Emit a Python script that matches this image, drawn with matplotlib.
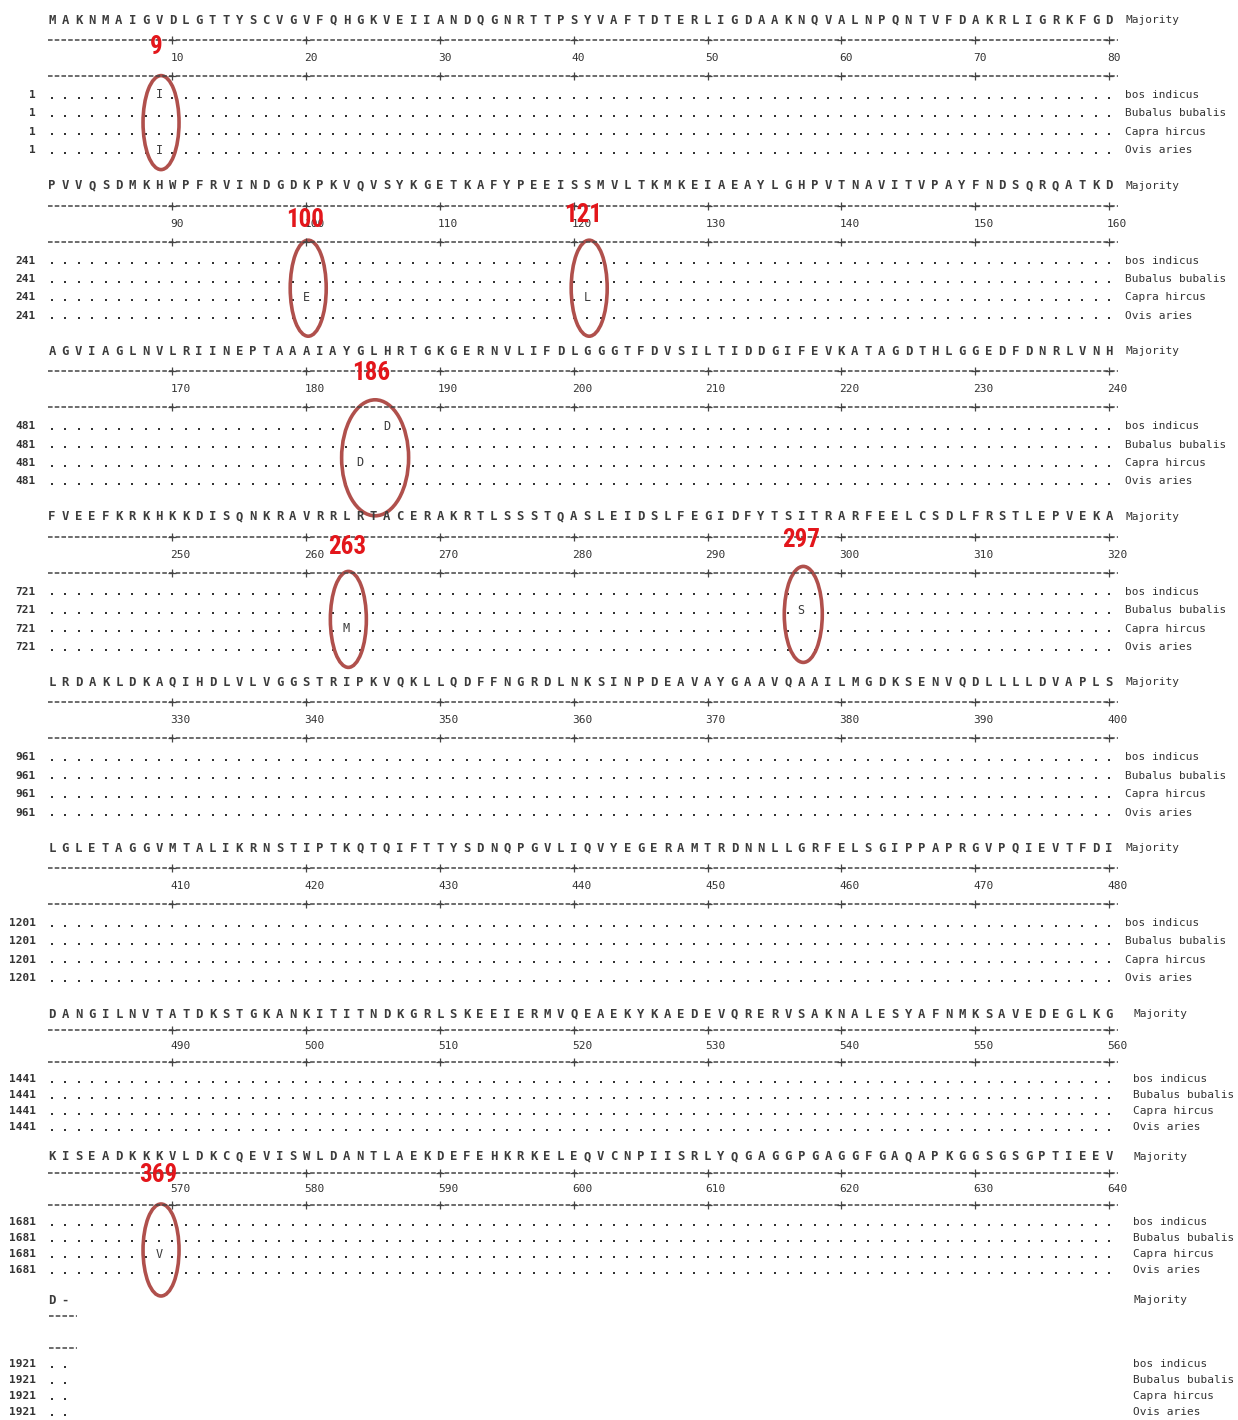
import matplotlib
matplotlib.use("Agg")
import matplotlib.pyplot as plt
from matplotlib.patches import Ellipse
from matplotlib import font_manager as fm

# ---------------- data ----------------
majority_blocks = [
    "MAKNMAIGVDLGTTYSCVGVFQHGKVEIIANDQGNRTTPSYVAFTDTERLIGDAAKNQVALNPQNTVFDAKRLIGRKFGD",
    "PVVQSDMKHWPFRVINDGDKPKVQVSYKGETKAFYPEEISSMVLTKMKEIAEAYLGHPVTNAVITVPAYFNDSQRQATKD",
    "AGVIAGLNVLRIINEPTAAAIAYGLHRTGKGERNVLIFDLGGGTFDVSILTIDDGIFEVKATAGDTHLGGEDFDNRLVNH",
    "FVEEFKRKHKKDISQNKRAVRRLRTACERAKRTLSSSTQASLEIDSLFEGIDFYTSITRARFEELCSDLFRSTLEPVEKA",
    "LRDAKLDKAQIHDLVLVGGSTRIPKVQKLLQDFFNGRDLNKSINPDEAVAYGAAVQAAILMGDKSENVQDLLLLDVAPLS",
    "LGLETAGGVMTALIKRNSTIPTKQTQIFTTYSDNQPGVLIQVYEGERAMTRDNNLLGRFELSGIPPAPRGVPQIEVTFDI",
    "DANGILNVTATDKSTGKANKITITNDKGRLSKEEIERMVQEAEKYKAEDEVQRERVSAKNALESYAFNMKSAVEDEGLKG",
    "KISEADKKKVLDKCQEVISWLDANTLAEKDEFEHKRKELEQVCNPIISRLYQGAGGPGAGGFGAQAPKGGSGSGPTIEEV",
    "D-",
]
species = ["bos indicus", "Bubalus bubalis", "Capra hircus", "Ovis aries"]
row_start = [1, 241, 481, 721, 961, 1201, 1441, 1681, 1921]

var_species = [0, 3, 2, 2, 0, 2, 2, 1, 2]
var_pos = [9, 9, 100, 121, 186, 184, 263, 297, 569]
var_res = ["I", "I", "E", "L", "D", "D", "M", "S", "V"]

site_labels = ["9", "100", "121", "186", "263", "297", "369"]
site_pos = [9, 100, 121, 185, 263, 297, 569]


# ---------------- fonts ----------------
def pick_narrow():
    for fam in ["Liberation Sans Narrow", "Roboto Condensed", "Open Sans Condensed",
                "DejaVu Sans Condensed", "Arial Narrow"]:
        try:
            fm.findfont(fm.FontProperties(family=fam, weight="bold"),
                        fallback_to_default=False)
            return [fam], "normal", 18
        except Exception:
            pass
    path = fm.findfont(fm.FontProperties(family="DejaVu Sans", stretch="condensed",
                                         weight="bold"))
    if "ondensed" in path:
        return ["DejaVu Sans"], "condensed", 16.5
    return ["Roboto", "DejaVu Sans"], "normal", 15.5


NARROW, NSTRETCH, NSIZE = pick_narrow()
MONO = ["DejaVu Sans Mono"]

# ---------------- layout ----------------
W, H = 1238, 1420
fig = plt.figure(figsize=(W / 100, H / 100), dpi=100)
ax = fig.add_axes([0, 0, 1, 1])
ax.set_xlim(0, W)
ax.set_ylim(H, 0)
ax.axis("off")

X1, DX = 52.0, 13.38
TXT = "#333333"
FS = 8.0

blocks_layout = []
for k in range(6):
    b = 20 + 165.6 * k
    blocks_layout.append(dict(y=b, d1=b + 20, n=b + 38, d2=b + 56, r0=b + 75, rs=18.4, lx=1125))
for b in (1014, 1157):
    blocks_layout.append(dict(y=b, d1=b + 16, n=b + 32, d2=b + 48, r0=b + 65, rs=16, lx=1133))
blocks_layout.append(dict(y=1300, d1=1316, n=None, d2=1348, r0=1364, rs=16, lx=1133))


def xpos(i):
    return X1 + i * DX


variants = {}
for s, p, r in zip(var_species, var_pos, var_res):
    variants[(s, p)] = r

for bi, seq in enumerate(majority_blocks):
    L = blocks_layout[bi]
    start = bi * 80
    n = len(seq)
    for i, ch in enumerate(seq):
        ax.text(xpos(i), L["y"], ch, ha="center", va="center", fontsize=8.8,
                family=MONO, color="#3c3c3c", fontweight="bold")
    ax.text(L["lx"], L["y"], "Majority", ha="left", va="center", fontsize=FS,
            family=MONO, color=TXT)
    if n > 2:
        xend = xpos(n - 1) + 9
        ticks = [i for i in range(n) if (start + i + 1) % 10 == 0]
        for yy in (L["d1"], L["d2"]):
            ax.plot([X1 - 4, xend], [yy, yy], color="#444444", lw=1.1,
                    linestyle=(0, (3.0, 1.4)), solid_capstyle="butt")
            ax.plot([xpos(i) for i in ticks], [yy] * len(ticks), linestyle="none",
                    marker="+", ms=6, mew=0.9, color="#444444")
        for i in ticks:
            ax.text(xpos(i) - 2, L["n"], str(start + i + 1), ha="left", va="center",
                    fontsize=FS, family=MONO, color=TXT)
    else:
        for yy in (L["d1"], L["d2"]):
            ax.plot([X1 - 3, X1 + 25], [yy, yy], color="#444444", lw=1.1,
                    linestyle=(0, (3.0, 1.4)))
    for si, name in enumerate(species):
        yy = L["r0"] + si * L["rs"]
        ax.text(36, yy, str(row_start[bi]), ha="right", va="center", fontsize=FS,
                family=MONO, color=TXT, fontweight="bold")
        ax.text(L["lx"], yy, name, ha="left", va="center", fontsize=FS,
                family=MONO, color=TXT)
        dx_list, dy_list = [], []
        for i in range(n):
            p = start + i + 1
            if (si, p) in variants:
                ax.text(xpos(i), yy, variants[(si, p)], ha="center", va="center",
                        fontsize=8.5, family=MONO, color="#3a3a3a")
            else:
                dx_list.append(xpos(i))
                dy_list.append(yy + 2.5)
        ax.scatter(dx_list, dy_list, s=3.4, marker="s", color="#333333", linewidths=0)

# highlighted sites
ell_w = [36, 36, 36, 67, 36, 38, 36]
ell_h = [94, 96, 96, 116, 96, 96, 92]
ell_dy = [0, 0, 0, 4, 0, -5, 4]
lab_dx = [-5, -3, -6, -4, -1, -2, -3]
lab_dy = [27, 34, 29, 22, 30, 23, 18]
for k, (lab, p) in enumerate(zip(site_labels, site_pos)):
    bi = (p - 1) // 80
    L = blocks_layout[bi]
    cx = xpos((p - 1) % 80) + 2
    cy = L["r0"] + 1.5 * L["rs"] + ell_dy[k]
    ax.add_patch(Ellipse((cx, cy), ell_w[k], ell_h[k], fill=False,
                         edgecolor="#b0504c", lw=2.6))
    ax.text(cx + lab_dx[k], L["y"] + lab_dy[k], lab, ha="center", va="center",
            fontsize=NSIZE, family=NARROW, fontstretch=NSTRETCH, fontweight="bold",
            color="#e3161b")

fig.savefig("out.png", dpi=100, facecolor="white")
